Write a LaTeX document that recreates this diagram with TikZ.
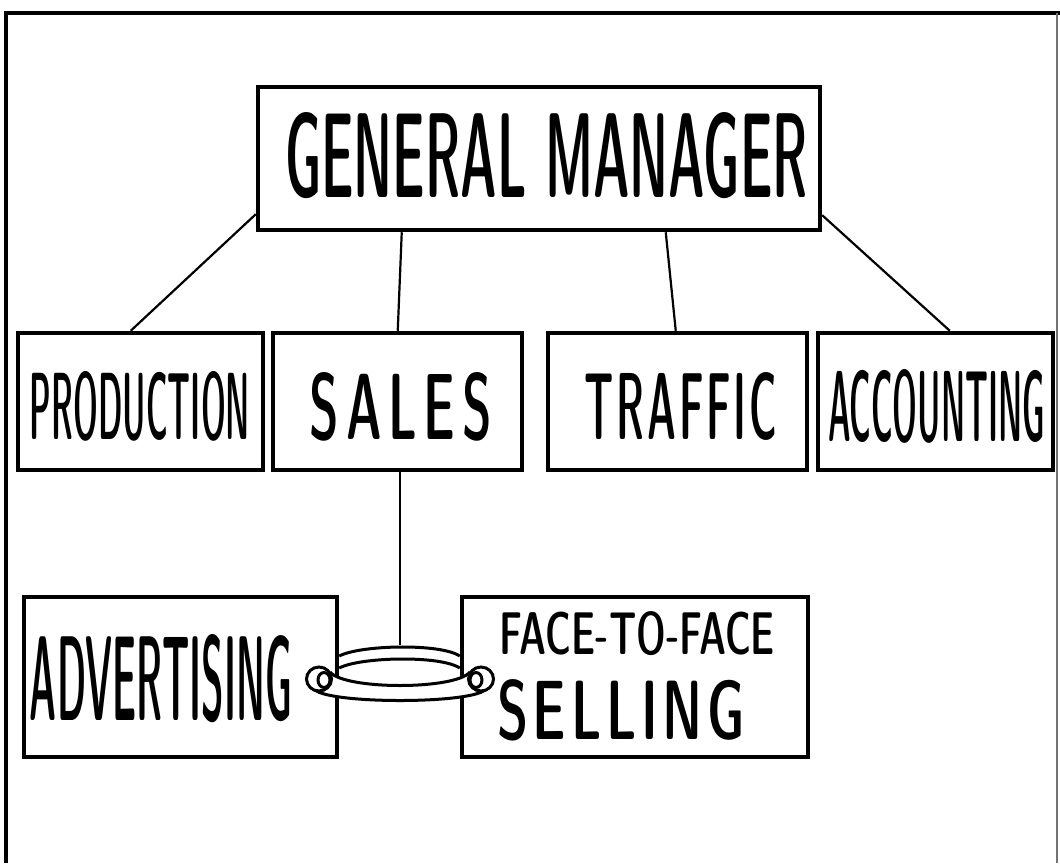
\documentclass[tikz,border=0pt]{standalone}
\usepackage{fontspec}
\usepackage{graphicx}
\newfontfamily\cond{lmsansdemicond10-regular.otf}
\usetikzlibrary{calc}
\newcommand{\fitt}[3]{\resizebox{#1pt}{#2pt}{\cond #3}}
\tikzset{
  box/.style={draw, line width=4.5pt, fill=white, inner sep=0pt},
  lbl/.style={inner sep=0pt, anchor=center},
  link/.style={line width=2.2pt},
  ringline/.style={line width=3pt},
  framel/.style={line width=4pt}
}
\begin{document}
\begin{tikzpicture}[x=1pt, y=-1pt]
\useasboundingbox (0,0) rectangle (1060,863);
% frame
\draw[framel] (6,863) -- (6,13) -- (1060,13);
\draw[line width=1.2pt, black!55] (1057,13) -- (1057,863);
% boxes
\node[box, minimum width=562pt, minimum height=143pt] (gm) at (539,158.5) {};
\node[box, minimum width=245pt, minimum height=137pt] (prod) at (140.5,401.5) {};
\node[box, minimum width=249pt, minimum height=137pt] (sales) at (397.5,401.5) {};
\node[box, minimum width=259pt, minimum height=137pt] (traffic) at (677.5,401.5) {};
\node[box, minimum width=235pt, minimum height=137pt] (acct) at (935.5,401.5) {};
\node[box, minimum width=313pt, minimum height=160pt] (adv) at (180.5,677) {};
\node[box, minimum width=346pt, minimum height=160pt] (ftf) at (635,677) {};
% labels
\node[lbl] (gmt) at (546.5,155.5) {\fitt{523}{85}{GENERAL MANAGER}};
\node[lbl] (prodt) at (140,406) {\fitt{220}{68}{PRODUCTION}};
\node[lbl] (salest) at (401,406.5) {\fitt{182}{67}{S\kern.12em A\kern.12em L\kern.12em E\kern.12em S}};
\node[lbl] (traffict) at (681,406.5) {\fitt{192}{67}{T\kern.06em R\kern.06em A\kern.06em F\kern.06em F\kern.06em I\kern.06em C}};
\node[lbl] (acctt) at (936.5,406) {\fitt{217}{72}{ACCOUNTING}};
\node[lbl] (advt) at (161,679) {\fitt{262}{86}{ADVERTISING}};
\node[lbl] (ftft) at (637.5,633.5) {\fitt{275}{43}{FACE-TO-FACE}};
\node[lbl] (sellt) at (621,710) {\fitt{248}{60}{S\kern.08em E\kern.08em L\kern.08em L\kern.08em I\kern.08em N\kern.08em G}};
% connectors from general manager
\draw[link] ([yshift=18pt]gm.south west) -- ([xshift=115pt]prod.north west);
\draw[link] ([xshift=146pt]gm.south west) -- ([xshift=127pt]sales.north west);
\draw[link] ([xshift=410pt]gm.south west) -- ([xshift=130pt]traffic.north west);
\draw[link] ([yshift=17pt]gm.south east) -- ([xshift=134pt]acct.north west);
% ring
\coordinate (ringtop) at (400,645);
\draw[link] ([xshift=2.5pt]sales.south) -- (ringtop);
% top band, between the boxes
\draw[ringline] (adv.east |- 0,656) .. controls (360,645) and (440,643) .. (ftf.west |- 0,656);
\draw[ringline] (adv.east |- 0,668) .. controls (360,657) and (440,655) .. (ftf.west |- 0,668);
% lower band, in front of the box edges
\fill[white] (315,690) .. controls (332,704) and (468,704) .. (485,690)
  -- (470,672) .. controls (455,690) and (345,690) .. (330,672) -- cycle;
\draw[ringline] (315,690) .. controls (332,704) and (468,704) .. (485,690);
\draw[ringline] (330,672) .. controls (345,690) and (455,690) .. (470,672);
% end loops
\draw[ringline, fill=white] (319,679) ellipse[x radius=12.5pt, y radius=12pt];
\draw[ringline] (324,680) ellipse[x radius=6pt, y radius=7.5pt];
\draw[ringline, fill=white] (481,679) ellipse[x radius=12.5pt, y radius=12pt];
\draw[ringline] (476,680) ellipse[x radius=6pt, y radius=7.5pt];
\end{tikzpicture}
\end{document}
